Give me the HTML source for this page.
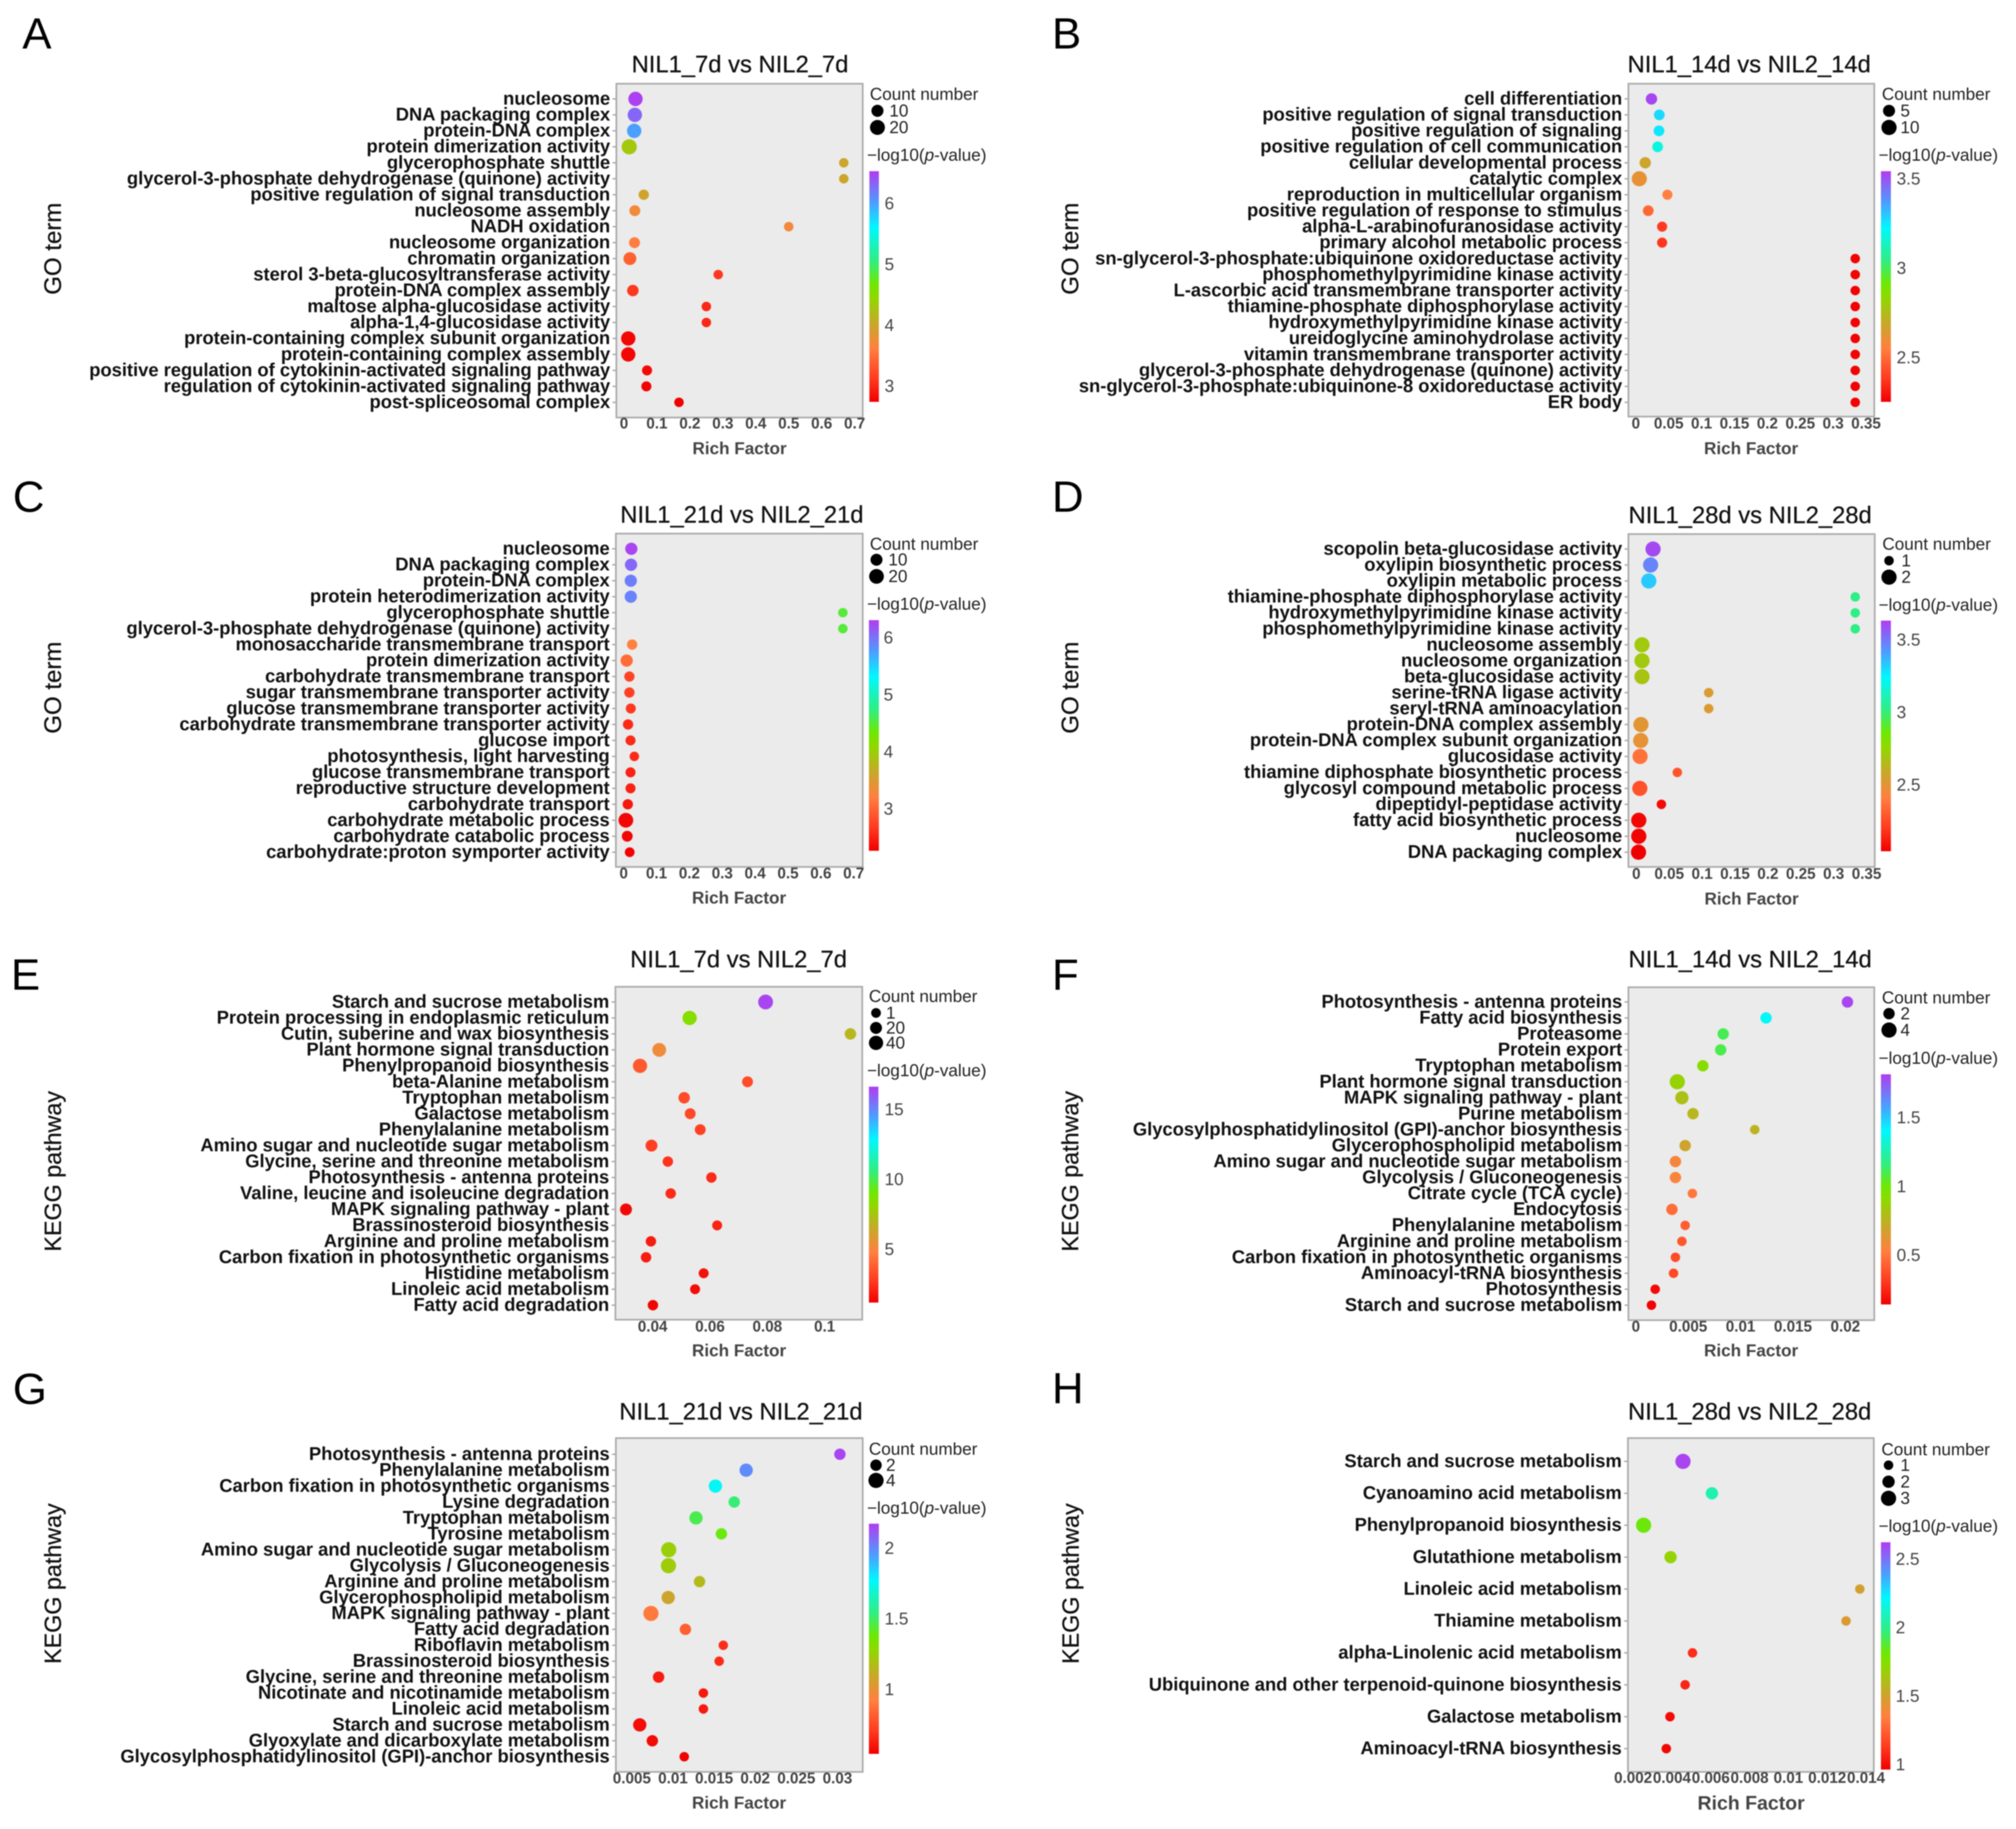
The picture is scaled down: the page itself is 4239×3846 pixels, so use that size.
<!DOCTYPE html>
<html lang="en">
<head>
<meta charset="utf-8">
<title>GO and KEGG enrichment bubble charts</title>
<style>
html,body{margin:0;padding:0;background:#fff;width:4239px;height:3846px;overflow:hidden}
svg{display:block;filter:blur(1.1px);font-family:"Liberation Sans",Arial,sans-serif}
</style>
</head>
<body>
<svg id="figure" xmlns="http://www.w3.org/2000/svg" width="4239" height="3846" viewBox="0 0 4239 3846">
<defs>
<linearGradient id="rainbow" x1="0" y1="1" x2="0" y2="0">
<stop offset="0" stop-color="#f00000"/><stop offset="0.1" stop-color="#ff3a20"/><stop offset="0.233" stop-color="#ff8040"/><stop offset="0.34" stop-color="#c8a82a"/><stop offset="0.45" stop-color="#90d800"/><stop offset="0.51" stop-color="#70e800"/><stop offset="0.61" stop-color="#30ee80"/><stop offset="0.755" stop-color="#00f8ff"/><stop offset="0.86" stop-color="#4aa0ff"/><stop offset="1" stop-color="#b23cf0"/>
</linearGradient>
</defs>
</svg>
<script>
// Panel A
const termsA = ["nucleosome","DNA packaging complex","protein-DNA complex","protein dimerization activity","glycerophosphate shuttle","glycerol-3-phosphate dehydrogenase (quinone) activity","positive regulation of signal transduction","nucleosome assembly","NADH oxidation","nucleosome organization","chromatin organization","sterol 3-beta-glucosyltransferase activity","protein-DNA complex assembly","maltose alpha-glucosidase activity","alpha-1,4-glucosidase activity","protein-containing complex subunit organization","protein-containing complex assembly","positive regulation of cytokinin-activated signaling pathway","regulation of cytokinin-activated signaling pathway","post-spliceosomal complex"];
const richA = [0.035,0.033,0.031,0.016,0.667,0.667,0.06,0.033,0.5,0.032,0.018,0.286,0.027,0.25,0.25,0.013,0.013,0.07,0.068,0.167];
const pvalA = [6.5,6.3,6.0,4.3,4.0,4.0,3.97,3.72,3.7,3.6,3.4,3.1,3.1,3.0,3.0,2.78,2.78,2.8,2.77,2.74];
const countA = [18,18,18,21,1,1,4,6,1,6,13,1,8,1,1,18,18,3,3,1];
const xTicksA = [0,0.1,0.2,0.3,0.4,0.5,0.6,0.7];
const cbTicksA = [3,4,5,6];
const sizeBreaksA = [10,20];
// Panel B
const termsB = ["cell differentiation","positive regulation of signal transduction","positive regulation of signaling","positive regulation of cell communication","cellular developmental process","catalytic complex","reproduction in multicellular organism","positive regulation of response to stimulus","alpha-L-arabinofuranosidase activity","primary alcohol metabolic process","sn-glycerol-3-phosphate:ubiquinone oxidoreductase activity","phosphomethylpyrimidine kinase activity","L-ascorbic acid transmembrane transporter activity","thiamine-phosphate diphosphorylase activity","hydroxymethylpyrimidine kinase activity","ureidoglycine aminohydrolase activity","vitamin transmembrane transporter activity","glycerol-3-phosphate dehydrogenase (quinone) activity","sn-glycerol-3-phosphate:ubiquinone-8 oxidoreductase activity","ER body"];
const richB = [0.0238,0.0357,0.0352,0.0332,0.0143,0.0053,0.048,0.0189,0.04,0.04,0.3336,0.3336,0.3336,0.3336,0.3336,0.3336,0.3336,0.3336,0.3336,0.3336];
const pvalB = [3.52,3.27,3.25,3.18,2.68,2.61,2.55,2.49,2.38,2.37,2.26,2.26,2.26,2.26,2.26,2.26,2.26,2.26,2.26,2.26];
const countB = [4,3,3,3,4,10,2,3,2,2,1,1,1,1,1,1,1,1,1,1];
const xTicksB = [0,0.05,0.1,0.15,0.2,0.25,0.3,0.35];
const cbTicksB = [2.5,3,3.5];
const sizeBreaksB = [5,10];
// Panel C
const termsC = ["nucleosome","DNA packaging complex","protein-DNA complex","protein heterodimerization activity","glycerophosphate shuttle","glycerol-3-phosphate dehydrogenase (quinone) activity","monosaccharide transmembrane transport","protein dimerization activity","carbohydrate transmembrane transport","sugar transmembrane transporter activity","glucose transmembrane transporter activity","carbohydrate transmembrane transporter activity","glucose import","photosynthesis, light harvesting","glucose transmembrane transport","reproductive structure development","carbohydrate transport","carbohydrate metabolic process","carbohydrate catabolic process","carbohydrate:proton symporter activity"];
const richC = [0.0233,0.0224,0.0216,0.0216,0.667,0.667,0.0257,0.0091,0.0174,0.0174,0.0216,0.0133,0.0208,0.0324,0.0208,0.0208,0.0125,0.0066,0.0108,0.0183];
const pvalC = [6.25,6.05,5.92,5.9,4.5,4.5,3.2,3.05,2.75,2.72,2.65,2.55,2.55,2.55,2.5,2.5,2.42,2.32,2.3,2.28];
const countC = [11,11,11,11,1,1,4,11,4,4,3,4,3,1,3,3,4,20,6,2];
const xTicksC = [0,0.1,0.2,0.3,0.4,0.5,0.6,0.7];
const cbTicksC = [3,4,5,6];
const sizeBreaksC = [10,20];
// Panel D
const termsD = ["scopolin beta-glucosidase activity","oxylipin biosynthetic process","oxylipin metabolic process","thiamine-phosphate diphosphorylase activity","hydroxymethylpyrimidine kinase activity","phosphomethylpyrimidine kinase activity","nucleosome assembly","nucleosome organization","beta-glucosidase activity","serine-tRNA ligase activity","seryl-tRNA aminoacylation","protein-DNA complex assembly","protein-DNA complex subunit organization","glucosidase activity","thiamine diphosphate biosynthetic process","glycosyl compound metabolic process","dipeptidyl-peptidase activity","fatty acid biosynthetic process","nucleosome","DNA packaging complex"];
const richD = [0.0254,0.0217,0.0189,0.3328,0.3328,0.3328,0.0086,0.0086,0.0086,0.11,0.11,0.007,0.0066,0.0057,0.0623,0.0053,0.0381,0.0037,0.0037,0.0033];
const pvalD = [3.6,3.47,3.33,3.02,3.02,3.02,2.7,2.7,2.68,2.53,2.52,2.5,2.49,2.37,2.28,2.27,2.07,2.06,2.05,2.04];
const countD = [2,2,2,1,1,1,2,2,2,1,1,2,2,2,1,2,1,2,2,2];
const xTicksD = [0,0.05,0.1,0.15,0.2,0.25,0.3,0.35];
const cbTicksD = [2.5,3,3.5];
const sizeBreaksD = [1,2];
// Panel E
const termsE = ["Starch and sucrose metabolism","Protein processing in endoplasmic reticulum","Cutin, suberine and wax biosynthesis","Plant hormone signal transduction","Phenylpropanoid biosynthesis","beta-Alanine metabolism","Tryptophan metabolism","Galactose metabolism","Phenylalanine metabolism","Amino sugar and nucleotide sugar metabolism","Glycine, serine and threonine metabolism","Photosynthesis - antenna proteins","Valine, leucine and isoleucine degradation","MAPK signaling pathway - plant","Brassinosteroid biosynthesis","Arginine and proline metabolism","Carbon fixation in photosynthetic organisms","Histidine metabolism","Linoleic acid metabolism","Fatty acid degradation"];
const richE = [0.0794,0.0529,0.109,0.0423,0.0356,0.0731,0.051,0.0531,0.0566,0.0396,0.0453,0.0605,0.0463,0.0307,0.0625,0.0394,0.0377,0.0578,0.0548,0.0401];
const pvalE = [16.4,8.4,6.9,5.2,3.6,3.2,3.2,3.1,2.9,2.8,2.5,2.3,2.3,1.4,2.1,1.9,1.9,1.6,1.5,1.3];
const countE = [45,40,16,36,40,11,16,11,11,20,7,7,7,20,3,7,7,3,3,7];
const xTicksE = [0.04,0.06,0.08,0.1];
const cbTicksE = [5,10,15];
const sizeBreaksE = [1,20,40];
// Panel F
const termsF = ["Photosynthesis - antenna proteins","Fatty acid biosynthesis","Proteasome","Protein export","Tryptophan metabolism","Plant hormone signal transduction","MAPK signaling pathway - plant","Purine metabolism","Glycosylphosphatidylinositol (GPI)-anchor biosynthesis","Glycerophospholipid metabolism","Amino sugar and nucleotide sugar metabolism","Glycolysis / Gluconeogenesis","Citrate cycle (TCA cycle)","Endocytosis","Phenylalanine metabolism","Arginine and proline metabolism","Carbon fixation in photosynthetic organisms","Aminoacyl-tRNA biosynthesis","Photosynthesis","Starch and sucrose metabolism"];
const richF = [0.0202,0.01243,0.00834,0.0081,0.0064,0.00396,0.0044,0.00546,0.01135,0.00471,0.00378,0.00378,0.0054,0.00345,0.00471,0.0044,0.00378,0.0036,0.00185,0.00149];
const pvalF = [1.79,1.39,1.1,1.09,0.92,0.87,0.8,0.76,0.75,0.69,0.56,0.55,0.5,0.47,0.42,0.4,0.36,0.35,0.17,0.15];
const countF = [2,2,2,2,2,4,3,2,1,2,2,2,1,2,1,1,1,1,1,1];
const xTicksF = [0,0.005,0.01,0.015,0.02];
const cbTicksF = [0.5,1,1.5];
const sizeBreaksF = [2,4];
// Panel G
const termsG = ["Photosynthesis - antenna proteins","Phenylalanine metabolism","Carbon fixation in photosynthetic organisms","Lysine degradation","Tryptophan metabolism","Tyrosine metabolism","Amino sugar and nucleotide sugar metabolism","Glycolysis / Gluconeogenesis","Arginine and proline metabolism","Glycerophospholipid metabolism","MAPK signaling pathway - plant","Fatty acid degradation","Riboflavin metabolism","Brassinosteroid biosynthesis","Glycine, serine and threonine metabolism","Nicotinate and nicotinamide metabolism","Linoleic acid metabolism","Starch and sucrose metabolism","Glyoxylate and dicarboxylate metabolism","Glycosylphosphatidylinositol (GPI)-anchor biosynthesis"];
const richG = [0.0303,0.0189,0.01516,0.01745,0.0128,0.01589,0.00948,0.00945,0.01323,0.00942,0.00732,0.01151,0.01612,0.01562,0.00825,0.0137,0.0137,0.00596,0.00749,0.01137];
const pvalG = [2.15,1.99,1.75,1.52,1.47,1.39,1.24,1.23,1.16,1.08,0.9,0.82,0.67,0.66,0.62,0.61,0.61,0.58,0.57,0.55];
const countG = [2,3,3,2,3,2,4,4,2,3,4,2,1,1,2,1,1,3,2,1];
const xTicksG = [0.005,0.01,0.015,0.02,0.025,0.03];
const cbTicksG = [1,1.5,2];
const sizeBreaksG = [2,4];
// Panel H
const termsH = ["Starch and sucrose metabolism","Cyanoamino acid metabolism","Phenylpropanoid biosynthesis","Glutathione metabolism","Linoleic acid metabolism","Thiamine metabolism","alpha-Linolenic acid metabolism","Ubiquinone and other terpenoid-quinone biosynthesis","Galactose metabolism","Aminoacyl-tRNA biosynthesis"];
const richH = [0.00457,0.00606,0.00254,0.00393,0.01368,0.01297,0.00506,0.00468,0.0039,0.00371];
const pvalH = [2.6,2.06,1.82,1.69,1.49,1.46,1.09,1.07,0.99,0.98];
const countH = [3,2,3,2,1,1,1,1,1,1];
const xTicksH = [0.002,0.004,0.006,0.008,0.01,0.012,0.014];
const cbTicksH = [1,1.5,2,2.5];
const sizeBreaksH = [1,2,3];

const NS = 'http://www.w3.org/2000/svg';
const root = document.getElementById('figure');
function mk(tag, attrs, parent, text) {
  const el = document.createElementNS(NS, tag);
  for (const k in attrs) el.setAttribute(k, attrs[k]);
  if (text !== undefined) el.textContent = text;
  parent.appendChild(el);
  return el;
}
const colorStops = [[0,[240,0,0]],[0.1,[255,58,32]],[0.233,[255,128,64]],[0.34,[200,168,42]],[0.45,[144,216,0]],[0.51,[112,232,0]],[0.61,[48,238,128]],[0.755,[0,248,255]],[0.86,[74,160,255]],[1,[178,60,240]]];
function rampColor(f) {
  f = Math.max(0, Math.min(1, f));
  for (let i = 1; i < colorStops.length; i++) {
    if (f <= colorStops[i][0]) {
      const a = colorStops[i-1], b = colorStops[i], t = (f-a[0])/(b[0]-a[0]);
      const c = a[1].map((v,j)=>Math.round(v+(b[1][j]-v)*t));
      return 'rgb('+c.join(',')+')';
    }
  }
  return 'rgb(178,60,240)';
}
const panels = [
 {id:'a',letter:'A',lx:47,ly:102,axis:'GO term',axFs:50.5,axX:128,axY:523,title:'NIL1_7d vs NIL2_7d',tx:1556,ty:152,box:[1296,176,1814,878],row:[208,846],terms:termsA,rich:richA,pval:pvalA,count:countA,xTicks:xTicksA,xRef:[0,1312,692.9],tickY:901,rx:1555,ry:955,rfs:36,cb:cbTicksA,dom:[2.735,6.525],bar:[1828,360,1848,845],barTx:1860,brk:sizeBreaksA,size:[1,20,21,32],cntX:1829,cntY:210,dotX:1845,legY:233,legD:35,legTx:1870,logX:1823,logY:338},
 {id:'b',letter:'B',lx:2212,ly:102,axis:'GO term',axFs:50.5,axX:2267,axY:523,title:'NIL1_14d vs NIL2_14d',tx:3678,ty:152,box:[3424,176,3941,876],row:[208,846],terms:termsB,rich:richB,pval:pvalB,count:countB,xTicks:xTicksB,xRef:[0,3439.6,1383],tickY:901,rx:3682,ry:955,rfs:36,cb:cbTicksB,dom:[2.25,3.54],bar:[3955,360,3976,845],barTx:3988,brk:sizeBreaksB,size:[1,20,10,32],cntX:3957,cntY:210,dotX:3972,legY:233,legD:35,legTx:3996,logX:3950,logY:338},
 {id:'c',letter:'C',lx:27,ly:1076,axis:'GO term',axFs:50.5,axX:128,axY:1446,title:'NIL1_21d vs NIL2_21d',tx:1560,ty:1099,box:[1295,1122,1814,1823],row:[1154,1792],terms:termsC,rich:richC,pval:pvalC,count:countC,xTicks:xTicksC,xRef:[0,1311.4,691],tickY:1847,rx:1554,ry:1900,rfs:36,cb:cbTicksC,dom:[2.26,6.3],bar:[1827,1304,1848,1789],barTx:1858,brk:sizeBreaksC,size:[1,20,20,31],cntX:1829,cntY:1156,dotX:1843,legY:1177,legD:35,legTx:1868,logX:1823,logY:1282},
 {id:'d',letter:'D',lx:2212,ly:1076,axis:'GO term',axFs:50.5,axX:2267,axY:1446,title:'NIL1_28d vs NIL2_28d',tx:3680,ty:1100,box:[3424,1123,3942,1823],row:[1154.5,1792],terms:termsD,rich:richD,pval:pvalD,count:countD,xTicks:xTicksD,xRef:[0,3440.7,1383],tickY:1848,rx:3683,ry:1902,rfs:36,cb:cbTicksD,dom:[2.04,3.63],bar:[3955,1305,3976,1790],barTx:3988,brk:sizeBreaksD,size:[1,20,2,32],cntX:3958,cntY:1156,dotX:3972,legY:1179,legD:34.6,legTx:3998,logX:3950,logY:1284},
 {id:'e',letter:'E',lx:23,ly:2081,axis:'KEGG pathway',axFs:49,axX:128,axY:2463,title:'NIL1_7d vs NIL2_7d',tx:1553,ty:2034,box:[1294,2075,1813,2775],row:[2107,2744.5],terms:termsE,rich:richE,pval:pvalE,count:countE,xTicks:xTicksE,xRef:[0.04,1372.3,6027.6],tickY:2800,rx:1554,ry:2852,rfs:36,cb:cbTicksE,dom:[1.15,16.6],bar:[1827,2285,1847,2739],barTx:1860,brk:sizeBreaksE,size:[1,20.5,40,30],cntX:1827,cntY:2107,dotX:1842,legY:2130,legD:31.5,legTx:1863,logX:1823,logY:2263},
 {id:'f',letter:'F',lx:2212,ly:2081,axis:'KEGG pathway',axFs:49,axX:2267,axY:2463,title:'NIL1_14d vs NIL2_14d',tx:3680,ty:2034,box:[3424,2076,3941,2776],row:[2107,2744.5],terms:termsF,rich:richF,pval:pvalF,count:countF,xTicks:xTicksF,xRef:[0,3439.6,22030],tickY:2800,rx:3682,ry:2852,rfs:36,cb:cbTicksF,dom:[0.14,1.81],bar:[3955,2259,3976,2743],barTx:3988,brk:sizeBreaksF,size:[1,20,4,32],cntX:3957,cntY:2110,dotX:3972,legY:2131.5,legD:34.5,legTx:3996,logX:3950,logY:2237},
 {id:'g',letter:'G',lx:27,ly:2952,axis:'KEGG pathway',axFs:49,axX:128,axY:3330,title:'NIL1_21d vs NIL2_21d',tx:1558,ty:2985,box:[1295,3024,1814,3726],row:[3058,3694],terms:termsG,rich:richG,pval:pvalG,count:countG,xTicks:xTicksG,xRef:[0.005,1328.6,17290],tickY:3750,rx:1554,ry:3803,rfs:36,cb:cbTicksG,dom:[0.54,2.17],bar:[1827,3204,1848,3688],barTx:1860,brk:sizeBreaksG,size:[1,20,4,32],cntX:1827,cntY:3059,dotX:1842,legY:3081,legD:32,legTx:1863,logX:1823,logY:3183},
 {id:'h',letter:'H',lx:2212,ly:2951,axis:'KEGG pathway',axFs:49,axX:2268,axY:3330,title:'NIL1_28d vs NIL2_28d',tx:3679,ty:2985,box:[3423,3024,3940,3726],row:[3073,3677],terms:termsH,rich:richH,pval:pvalH,count:countH,xTicks:xTicksH,xRef:[0.002,3433.9,40816],tickY:3749,rx:3682,ry:3805,rfs:41,cb:cbTicksH,dom:[0.96,2.62],bar:[3955,3243,3975,3721],barTx:3986,brk:sizeBreaksH,size:[1,20,3,32],cntX:3956,cntY:3060,dotX:3971,legY:3081,legD:34.8,legTx:3996,logX:3950,logY:3221}
];

function drawPanel(p) {
  const g = mk('g', {}, root);
  
  
  const xScale = v => p.xRef[1] + (v - p.xRef[0]) * p.xRef[2];
  const yScale = i => p.row[0] + i * (p.row[1] - p.row[0]) / (p.terms.length - 1);
  const cFrac = v => (v - p.dom[0]) / (p.dom[1] - p.dom[0]);
  const barY = v => p.bar[3] - cFrac(v) * (p.bar[3] - p.bar[1]);
  const diam = c => p.size[1] + (c - p.size[0]) * (p.size[3] - p.size[1]) / (p.size[2] - p.size[0]);

  const letter = mk('text', {x:p.lx, y:p.ly, 'font-size':92, fill:'#000'}, g, p.letter);
  
  

  const title = mk('text', {x:p.tx, y:p.ty, 'font-size':50, 'text-anchor':'middle', fill:'#111', stroke:'#111', 'stroke-width':0.5}, g, p.title);
  
  

  const axis = mk('text', {x:0, y:0, transform:'translate('+p.axX+','+p.axY+') rotate(-90)', 'font-size':p.axFs, 'text-anchor':'middle', fill:'#111', stroke:'#111', 'stroke-width':0.5}, g, p.axis);
  
  

  const [bx0,by0,bx1,by1] = p.box;
  const box = mk('rect', {x:bx0, y:by0, width:bx1-bx0, height:by1-by0, fill:'#ebebeb', stroke:'#aaa', 'stroke-width':3.5}, g);
  
  

  p.terms.forEach((t, i) => {
    const y = yScale(i);
    const tick = mk('line', {x1:bx0-8, x2:bx0, y1:y, y2:y, stroke:'#aaa', 'stroke-width':3}, g);
    
    
    const label = mk('text', {x:bx0-13, y:y+12, 'font-size':38.6, 'font-weight':'bold', 'text-anchor':'end', fill:'#111'}, g, t);
    
    
  });

  p.xTicks.forEach((v, i) => {
    const label = mk('text', {x:xScale(v), y:p.tickY, 'font-size':32, 'font-weight':'bold', 'text-anchor':'middle', fill:'#444'}, g, String(v));
    
    
  });

  const rich = mk('text', {x:p.rx, y:p.ry, 'font-size':p.rfs, 'font-weight':'bold', 'text-anchor':'middle', fill:'#444'}, g, 'Rich Factor');
  
  

  p.rich.forEach((v, i) => {
    const dot = mk('circle', {cx:xScale(v), cy:yScale(i), r:diam(p.count[i])/2, fill:rampColor(cFrac(p.pval[i]))}, g);
    
    
  });

  const cnt = mk('text', {x:p.cntX, y:p.cntY, 'font-size':36, fill:'#222'}, g, 'Count number');
  
  

  p.brk.forEach((c, i) => {
    const y = p.legY + i * p.legD;
    const dot = mk('circle', {cx:p.dotX, cy:y, r:diam(c)/2, fill:'#000'}, g);
    
    
    const tx = mk('text', {x:p.legTx, y:y+12, 'font-size':36, fill:'#222'}, g, String(c));
    
    
  });

  const lg = mk('text', {x:p.logX, y:p.logY, 'font-size':36, fill:'#222'}, g);
  
  
  mk('tspan', {}, lg, '\u2212log10(');
  mk('tspan', {'font-style':'italic'}, lg, 'p');
  mk('tspan', {}, lg, '-value)');

  const bar = mk('rect', {x:p.bar[0], y:p.bar[1], width:p.bar[2]-p.bar[0], height:p.bar[3]-p.bar[1], fill:'url(#rainbow)'}, g);
  
  

  p.cb.forEach((v, i) => {
    const tx = mk('text', {x:p.barTx, y:barY(v)+13, 'font-size':36, fill:'#444'}, g, String(v));
    
    
  });
}
panels.forEach(drawPanel);
</script>
</body>
</html>
